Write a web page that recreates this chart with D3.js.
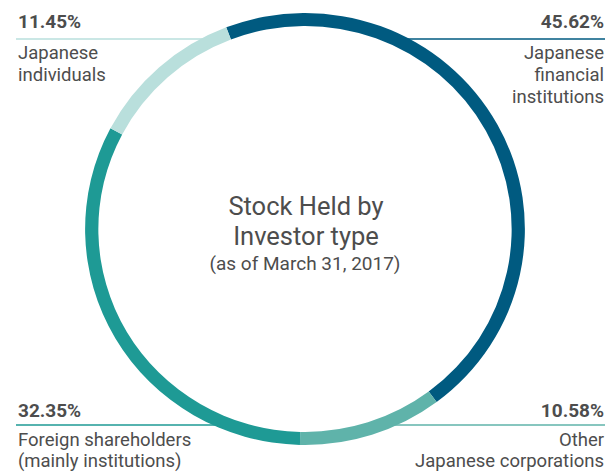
<!DOCTYPE html>
<html><head><meta charset="utf-8">
<script src="https://cdn.jsdelivr.net/npm/d3@7"></script>
<style>
html,body{margin:0;padding:0;background:#fff;}
svg{display:block;}
text{font-family:Roboto,"Liberation Sans",sans-serif;fill:#4d4d4d;}
</style></head>
<body>
<svg id="chart" width="607" height="473"></svg>
<script>
const categories = ["Japanese financial institutions", "Other Japanese corporations", "Foreign shareholders (mainly institutions)", "Japanese individuals"];
const shares = [45.62, 10.58, 32.35, 11.45];
const valueLabels = ["45.62%", "10.58%", "32.35%", "11.45%"];
const labelLines = [["Japanese", "financial", "institutions"], ["Other", "Japanese corporations"], ["Foreign shareholders", "(mainly institutions)"], ["Japanese", "individuals"]];
const colors = ["#005a80", "#5fb3aa", "#1e9a95", "#b9dfdc"];
const titleLines = ["Stock Held by", "Investor type"];
const subtitle = "(as of March 31, 2017)";

const svg = d3.select("#chart");
const cx = 305, cy = 229, rOuter = 216, rInner = 203, sx = 1.018;

const pie = d3.pie().sort(null).value(d => d)
  .startAngle(-21 * Math.PI / 180).endAngle((360 - 21) * Math.PI / 180);
const arc = d3.arc().innerRadius(rInner).outerRadius(rOuter);
const color = d3.scaleOrdinal().domain(categories).range(colors);

const layout = [
  {x: 604, anchor: "end", pctY: 28, lineY: 39, x1: 395, x2: 605, textY: 59, gap: 22},
  {x: 604, anchor: "end", pctY: 417, lineY: 425, x1: 390, x2: 605, textY: 446, gap: 21},
  {x: 18, anchor: "start", pctY: 417, lineY: 425, x1: 16, x2: 220, textY: 446, gap: 21},
  {x: 18, anchor: "start", pctY: 28, lineY: 39, x1: 16, x2: 215, textY: 59, gap: 22}
];
const g = svg.append("g");
layout.forEach((L, i) => {
  g.append("line").attr("x1", L.x1).attr("x2", L.x2).attr("y1", L.lineY).attr("y2", L.lineY)
    .attr("stroke", colors[i]).attr("stroke-width", 1.5);
});

const ring = svg.append("g").attr("transform", `translate(${cx},${cy}) scale(${sx},1)`);
ring.selectAll("path").data(pie(shares)).join("path")
  .attr("d", arc).attr("fill", (d, i) => color(categories[i]));

layout.forEach((L, i) => {
  g.append("text").attr("x", L.x).attr("y", L.pctY).attr("text-anchor", L.anchor)
    .attr("font-size", 19).attr("font-weight", "bold").attr("fill", "#454545").text(valueLabels[i]);
  labelLines[i].forEach((t, j) => {
    g.append("text").attr("x", L.x).attr("y", L.textY + j * L.gap).attr("text-anchor", L.anchor)
      .attr("font-size", 18.5).text(t);
  });
});

const c = svg.append("g").attr("text-anchor", "middle");
titleLines.forEach((t, j) => {
  c.append("text").attr("x", 306).attr("y", 215 + j * 30).attr("font-size", 25.5).text(t);
});
c.append("text").attr("x", 305).attr("y", 270).attr("font-size", 19).text(subtitle);
</script>
</body></html>
